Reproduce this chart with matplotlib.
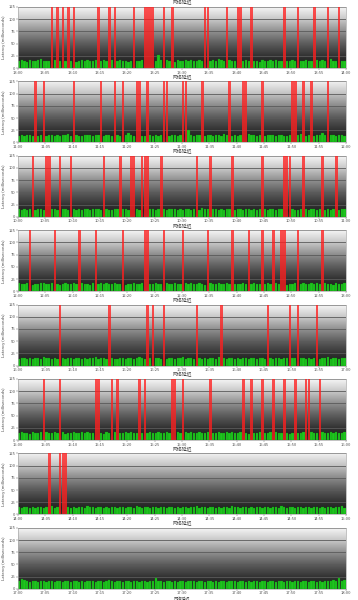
import numpy as np
import matplotlib.pyplot as plt

plt.rcParams['font.family'] = ['Noto Sans CJK SC', 'DejaVu Sans']

# chart title above every panel
chart_title = '网络延迟'

# hour shown on the x axis of each panel (top to bottom)
panel_hours = ['13', '11', '10', '12', '16', '15', '14', '17']

# sample times in minutes (one sample every 30 s)
sample_minutes = np.arange(0, 60, 0.5)

# latency per sample, in ms
lat_1 = [14, 16, 15, 13, 17, 15, 14, 16, 18, 15, 14, 15, 13, 16, 15, 14, 17, 15, 16, 14,
         15, 13, 14, 16, 15, 17, 14, 15, 16, 13, 15, 16, 14, 15, 17, 15, 14, 16, 15, 14,
         13, 15, 16, 14, 15, 16, 13, 15, 14, 16, 15, 26, 17, 22, 16, 14, 15, 13, 16, 15,
         14, 16, 15, 17, 14, 15, 16, 14, 15, 13, 15, 16, 14, 18, 16, 15, 14, 16, 14, 15,
         16, 15, 14, 17, 15, 16, 14, 15, 13, 16, 15, 14, 16, 15, 17, 15, 14, 16, 15, 14,
         16, 15, 17, 14, 15, 16, 14, 15, 13, 16, 15, 16, 14, 15, 18, 15, 14, 16, 15, 14]
lat_2 = [13, 15, 14, 16, 15, 13, 17, 14, 15, 16, 14, 15, 16, 13, 15, 14, 16, 15, 17, 14,
         15, 16, 14, 13, 15, 16, 15, 14, 16, 15, 14, 13, 15, 16, 14, 17, 15, 14, 16, 15,
         19, 15, 14, 16, 15, 14, 13, 15, 16, 14, 15, 14, 16, 15, 17, 14, 15, 16, 14, 15,
         16, 18, 25, 15, 14, 16, 15, 13, 14, 16, 15, 14, 16, 15, 14, 17, 15, 16, 14, 15,
         13, 16, 15, 14, 18, 15, 16, 14, 15, 17, 14, 15, 16, 15, 14, 16, 15, 14, 13, 16,
         15, 14, 16, 17, 15, 14, 16, 15, 14, 15, 16, 19, 15, 14, 16, 15, 14, 16, 15, 14]
lat_3 = [15, 14, 16, 13, 15, 17, 14, 15, 16, 14, 15, 13, 16, 15, 14, 17, 15, 16, 14, 15,
         16, 14, 15, 13, 16, 15, 14, 16, 15, 17, 14, 15, 16, 14, 13, 15, 16, 14, 15, 16,
         14, 15, 17, 15, 14, 16, 15, 13, 15, 16, 14, 15, 16, 15, 14, 17, 15, 16, 14, 15,
         13, 16, 15, 14, 16, 15, 14, 18, 15, 16, 14, 15, 16, 14, 15, 13, 16, 15, 17, 14,
         15, 16, 14, 15, 16, 13, 15, 14, 16, 15, 17, 14, 15, 16, 14, 15, 16, 15, 14, 16,
         15, 14, 13, 16, 15, 17, 14, 15, 16, 14, 15, 16, 14, 15, 13, 16, 15, 14, 16, 15]
lat_4 = [16, 15, 14, 16, 15, 13, 15, 14, 16, 17, 15, 14, 16, 15, 14, 13, 15, 16, 14, 15,
         17, 14, 15, 16, 14, 15, 13, 16, 15, 14, 16, 15, 17, 14, 15, 16, 14, 15, 16, 13,
         15, 14, 16, 15, 14, 17, 15, 16, 14, 15, 16, 14, 15, 13, 16, 15, 14, 16, 15, 14,
         15, 16, 14, 17, 15, 14, 16, 15, 13, 15, 16, 14, 15, 16, 14, 15, 17, 14, 16, 15,
         14, 15, 16, 14, 13, 15, 16, 15, 14, 16, 15, 17, 14, 15, 16, 14, 15, 16, 13, 15,
         14, 16, 15, 14, 16, 15, 14, 17, 15, 16, 14, 15, 16, 14, 15, 13, 16, 15, 14, 16]
lat_5 = [14, 15, 16, 14, 15, 13, 16, 15, 14, 17, 15, 16, 14, 15, 13, 16, 15, 14, 16, 15,
         14, 15, 16, 13, 15, 14, 16, 15, 17, 14, 15, 16, 14, 15, 16, 14, 13, 15, 16, 14,
         15, 16, 14, 15, 17, 15, 14, 16, 15, 14, 16, 15, 13, 15, 14, 16, 15, 14, 16, 15,
         17, 14, 15, 16, 14, 15, 16, 13, 15, 14, 16, 15, 14, 17, 15, 16, 14, 15, 16, 14,
         15, 13, 16, 15, 14, 16, 15, 14, 15, 16, 14, 17, 15, 14, 16, 15, 13, 15, 16, 14,
         15, 16, 14, 15, 16, 14, 15, 13, 16, 15, 14, 16, 15, 17, 14, 15, 16, 14, 15, 16]
lat_6 = [15, 16, 14, 15, 13, 16, 15, 14, 16, 15, 17, 14, 15, 16, 14, 15, 16, 13, 15, 14,
         16, 15, 14, 17, 15, 16, 14, 15, 16, 14, 15, 13, 16, 15, 14, 16, 15, 14, 15, 16,
         14, 17, 15, 14, 16, 15, 13, 15, 16, 14, 15, 16, 14, 15, 16, 14, 15, 13, 16, 15,
         14, 16, 15, 17, 14, 15, 16, 14, 15, 16, 13, 15, 14, 16, 15, 14, 17, 15, 16, 14,
         15, 16, 14, 15, 13, 16, 15, 14, 16, 15, 14, 15, 16, 14, 17, 15, 14, 16, 15, 13,
         15, 16, 14, 15, 16, 14, 15, 16, 14, 15, 13, 16, 15, 14, 16, 15, 17, 14, 15, 16]
lat_7 = [16, 14, 15, 16, 14, 15, 13, 16, 15, 14, 16, 15, 17, 14, 15, 16, 14, 15, 16, 13,
         15, 14, 16, 15, 14, 17, 15, 16, 14, 15, 16, 14, 15, 13, 16, 15, 14, 16, 15, 14,
         15, 16, 14, 17, 15, 14, 16, 15, 13, 15, 16, 14, 15, 16, 14, 15, 16, 14, 15, 13,
         16, 15, 14, 16, 15, 17, 14, 15, 16, 14, 15, 16, 13, 15, 14, 16, 15, 14, 17, 15,
         16, 14, 15, 16, 14, 15, 13, 16, 15, 14, 16, 15, 14, 15, 16, 14, 17, 15, 14, 16,
         15, 13, 15, 16, 14, 15, 16, 14, 15, 16, 14, 15, 13, 16, 15, 14, 16, 15, 17, 14]
lat_8 = [17, 20, 18, 15, 14, 16, 15, 14, 16, 15, 13, 15, 16, 14, 15, 17, 14, 15, 16, 14,
         15, 16, 14, 15, 13, 16, 15, 17, 14, 15, 16, 14, 15, 18, 15, 14, 16, 15, 14, 15,
         16, 14, 17, 15, 14, 16, 15, 13, 15, 16, 23, 15, 16, 14, 15, 16, 14, 15, 13, 16,
         15, 14, 16, 15, 17, 14, 15, 16, 14, 15, 16, 13, 15, 14, 16, 15, 14, 17, 15, 16,
         14, 15, 16, 14, 15, 13, 16, 15, 14, 16, 15, 14, 15, 16, 14, 17, 15, 14, 16, 15,
         13, 15, 16, 14, 15, 16, 14, 15, 16, 14, 15, 13, 16, 15, 17, 18, 16, 22, 17, 19]

# minutes where the ping timed out (drawn as full-height red bars)
loss_1 = [6.0, 7.0, 8.0, 9.0, 10.0, 14.5, 16.5, 17.5, 21.0, 23.0, 23.5, 24.0, 24.5,
          26.5, 28.0, 34.0, 34.5, 38.0, 40.0, 40.5, 42.5, 48.5, 51.0, 54.0, 56.5, 58.5]
loss_2 = [3.0, 4.5, 10.0, 15.0, 17.5, 19.0, 21.5, 22.0, 23.5, 26.5, 27.0, 30.0, 30.5,
          33.5, 38.5, 41.0, 41.5, 44.5, 50.0, 50.5, 52.0, 53.5, 56.5]
loss_3 = [2.5, 5.0, 5.5, 7.5, 9.5, 15.5, 18.5, 20.5, 21.0, 22.5, 23.0, 23.5, 26.0,
          32.5, 35.0, 39.0, 44.5, 48.5, 49.0, 49.5, 52.0, 55.5, 58.0]
loss_4 = [2.0, 6.5, 11.0, 14.0, 19.0, 23.0, 23.5, 26.5, 30.0, 34.5, 39.0, 42.0, 44.5,
          46.5, 48.0, 48.5, 51.0, 55.5]
loss_5 = [7.5, 16.5, 23.5, 24.5, 26.5, 32.5, 37.0, 45.5, 49.5, 51.0, 54.5]
loss_6 = [4.5, 7.5, 14.0, 14.5, 17.0, 18.0, 22.0, 23.0, 28.0, 28.5, 30.0, 35.0, 41.0,
          42.5, 44.5, 46.5, 48.5, 50.5, 52.5, 53.0, 55.0]
loss_7 = [5.5, 7.5, 8.0, 8.5]
loss_8 = []

latencies = [lat_1, lat_2, lat_3, lat_4, lat_5, lat_6, lat_7, lat_8]
losses = [loss_1, loss_2, loss_3, loss_4, loss_5, loss_6, loss_7, loss_8]

W, H = 358, 600
fig = plt.figure(figsize=(W / 100, H / 100), dpi=100)

# grey background gradient, light at the top and dark near zero
grad_y = np.linspace(0, 125, 300)
grad = np.interp(grad_y, [0, 12, 25, 50, 75, 100, 125],
                 [0.20, 0.14, 0.20, 0.36, 0.56, 0.78, 0.96])[:, None]

left, right = 18, 346
for k in range(8):
    top = 7 + 74.4 * k
    ax = fig.add_axes([left / W, 1 - (top + 61) / H, (right - left) / W, 61 / H])
    ax.imshow(grad, extent=[0, 60, 0, 125], aspect='auto', origin='lower',
              cmap='gray', vmin=0, vmax=1, zorder=0)

    lat = np.array(latencies[k], dtype=float)
    lost = np.isin(sample_minutes, losses[k])
    lat[lost] = 0
    ax.bar(sample_minutes, lat, width=0.42, align='edge', color='#1fc41f',
           edgecolor='#0c8c0c', linewidth=0.2, zorder=2)
    ax.bar(losses[k], 125, width=0.45, align='edge', color='#ff1f1f',
           alpha=0.78, linewidth=0, zorder=3)

    ax.set_xlim(0, 60)
    ax.set_ylim(0, 125)
    ax.set_yticks([0, 25, 50, 75, 100, 125])
    ax.grid(axis='y', color='#5a5a5a', linewidth=0.6)
    ax.set_xticks(range(0, 61, 5))
    h = int(panel_hours[k])
    ax.set_xticklabels([f'{h}:{m:02d}' for m in range(0, 60, 5)] + [f'{h + 1}:00'])
    ax.tick_params(labelsize=3, length=1.2, width=0.3, pad=0.6, colors='#555555')
    ax.set_ylabel('Latency (milliseconds)', fontsize=3, labelpad=1.5, color='#444444')
    for s in ax.spines.values():
        s.set_color('#aaaaaa')
        s.set_linewidth(0.5)

    fig.text(182 / W, 1 - (3 + 74.4 * k) / H, chart_title, ha='center', va='center',
             fontsize=3.5, color='#444444')

# title of the next chart, cut off at the bottom of the page
fig.text(182 / W, 1 - 599 / H, chart_title, ha='center', va='center',
         fontsize=3, color='#444444')

fig.savefig('out.png', dpi=100)
